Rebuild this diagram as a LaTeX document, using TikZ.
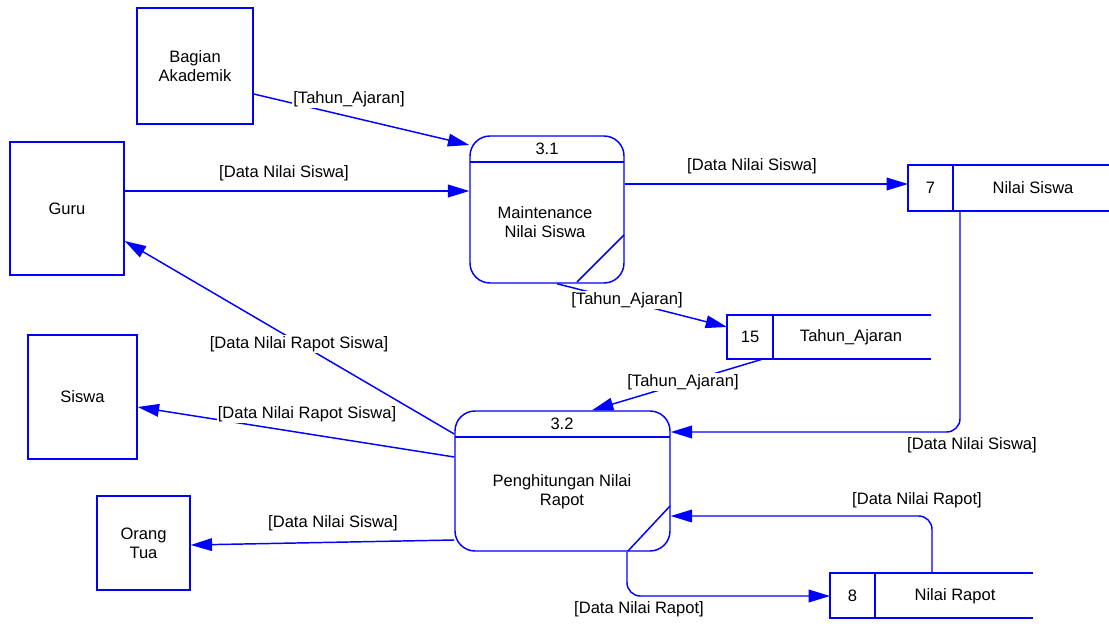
\documentclass[tikz,border=0pt]{standalone}
\usepackage{fontspec}
\setmainfont{Liberation Sans}
\usetikzlibrary{arrows.meta}
\definecolor{dfd}{RGB}{0,0,255}
\begin{document}
\begin{tikzpicture}[x=0.75pt,y=-0.75pt,
  every node/.style={font=\fontsize{12.4}{14.5}\selectfont, text=black},
  ent/.style={draw=dfd, line width=1.1pt, align=center, inner sep=0pt},
  proc/.style={draw=dfd, line width=1.1pt, rounded corners=15pt, inner sep=0pt},
  ln/.style={draw=dfd, line width=1.1pt},
  flow/.style={draw=dfd, line width=1.1pt, -{Triangle[length=16pt,width=9.5pt]}, rounded corners=10pt},
  lbl/.style={fill=white, inner sep=1pt}]
\useasboundingbox (0,0) rectangle (1109,624);
% external entities
\node[ent, minimum width=87pt, minimum height=87pt] (bag) at (195,66) {Bagian\\Akademik};
\node[ent, minimum width=85.5pt, minimum height=99.75pt] (guru) at (67,208.5) {Guru};
\node[ent, minimum width=81.75pt, minimum height=93pt] (siswa) at (82.5,397) {Siswa};
\node[ent, minimum width=69.75pt, minimum height=70.5pt] (ortu) at (143.5,543) {Orang\\Tua};
% processes
\node[proc, minimum width=115.5pt, minimum height=110.25pt] (p1) at (547,209.5) {};
\draw[ln] (470,162) -- (624,162);
\draw[ln] (624,235) -- (577,282);
\node (p1n) at (547,149) {3.1};
\node[align=center] (p1t) at (545,222) {Maintenance\\Nilai Siswa};
\node[proc, minimum width=161.25pt, minimum height=105pt] (p2) at (562.5,481) {};
\draw[ln] (455,437) -- (670,437);
\draw[ln] (670,506) -- (628,551);
\node (p2n) at (562,424) {3.2};
\node[align=center] (p2t) at (562,492) {Penghitungan Nilai\\Rapot};
% data stores
\draw[ln] (1109,165) -- (908,165) -- (908,211) -- (1109,211);
\draw[ln] (953,165) -- (953,211);
\node (s7n) at (930.5,188) {7};
\node (s7) at (1033,188) {Nilai Siswa};
\draw[ln] (931,315) -- (727,315) -- (727,359) -- (931,359);
\draw[ln] (773,315) -- (773,359);
\node (s15n) at (750,337) {15};
\node (s15) at (851,337) {Tahun\_Ajaran};
\draw[ln] (1033,573) -- (830,573) -- (830,618) -- (1033,618);
\draw[ln] (875,573) -- (875,618);
\node (s8n) at (852.5,596) {8};
\node (s8) at (955,596) {Nilai Rapot};
% flows
\draw[flow] (bag.east |- 0,94) -- (p1.west |- 0,145);
\draw[flow] (guru.east |- 0,191) -- (p1.west |- 0,191);
\draw[flow] (p1.east |- 0,184) -- (908,184);
\draw[flow] (p1.south -| 557,0) -- (727,327);
\draw[flow] (763,359) -- (p2.north -| 592,0);
\draw[flow] (p2.west |- 0,434) -- (guru.east |- 0,241);
\draw[flow] (p2.west |- 0,457) -- (siswa.east |- 0,407);
\draw[flow] (p2.west |- 0,540) -- (ortu.east |- 0,545);
\draw[flow] (960,211) -- (960,432) -- (p2.east |- 0,432);
\draw[flow] (932,573) -- (932,516) -- (p2.east |- 0,516);
\draw[flow] (p2.south -| 627,0) -- (627,596) -- (830,596);
% labels
\node[lbl] (l1) at (349,99) {[Tahun\_Ajaran]};
\node[lbl] (l2) at (284,173) {[Data Nilai Siswa]};
\node[lbl] (l3) at (752,166) {[Data Nilai Siswa]};
\node[lbl] (l4) at (627,300) {[Tahun\_Ajaran]};
\node[lbl] (l5) at (683,382) {[Tahun\_Ajaran]};
\node[lbl] (l6) at (299,344) {[Data Nilai Rapot Siswa]};
\node[lbl] (l7) at (307,414) {[Data Nilai Rapot Siswa]};
\node[lbl] (l8) at (333,523) {[Data Nilai Siswa]};
\node[lbl] (l9) at (972,445) {[Data Nilai Siswa]};
\node[lbl] (l10) at (917,500) {[Data Nilai Rapot]};
\node[lbl] (l11) at (639,609) {[Data Nilai Rapot]};
\end{tikzpicture}
\end{document}
